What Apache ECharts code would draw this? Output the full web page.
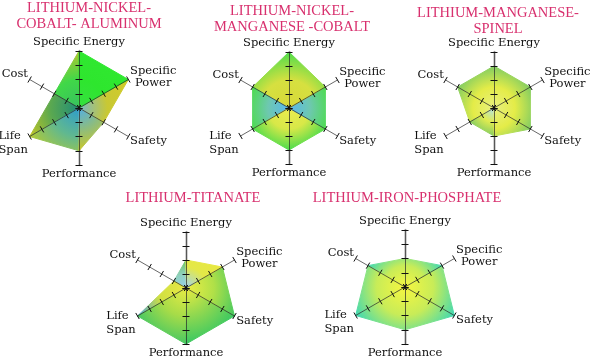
<!DOCTYPE html>
<html>
<head>
<meta charset="utf-8">
<script src="https://cdn.jsdelivr.net/npm/echarts@6/dist/echarts.min.js"></script>
<style>
html,body{margin:0;padding:0;background:#fff;}
#chart{width:594px;height:362px;}
</style>
</head>
<body>
<div id="chart"></div>
<script>
// Indicator order (counter-clockwise from top, as ECharts draws radar axes)
const indicatorNames = ['Specific Energy', 'Cost', 'Life Span', 'Performance', 'Safety', 'Specific Power'];
const chartTitles = [
  'LITHIUM-NICKEL-\nCOBALT- ALUMINUM',
  'LITHIUM-NICKEL-\nMANGANESE -COBALT',
  'LITHIUM-MANGANESE-\nSPINEL',
  'LITHIUM-TITANATE',
  'LITHIUM-IRON-PHOSPHATE'
];
// Ratings 0..4 in indicator order: SE, Cost, Life Span, Performance, Safety, Specific Power
const ncaValues = [4, 2, 4, 3, 2, 4];
const nmcValues = [4, 3, 3, 3, 3, 3];
const lmoValues = [3, 3, 2, 2, 3, 3];
const ltoValues = [2, 1, 4, 4, 4, 3];
const lfpValues = [2, 3, 4, 3, 4, 3];
const maxValue = 4;
const tickCount = 4;

const allValues = [ncaValues, nmcValues, lmoValues, ltoValues, lfpValues];

// layout (styles)
const layouts = [
  {cx: 79,  cy: 108, r: 57, tx: 89,  ty: 0},
  {cx: 289, cy: 108, r: 56, tx: 292, ty: 3},
  {cx: 494, cy: 108, r: 56, tx: 498, ty: 5},
  {cx: 186, cy: 288, r: 56, tx: 193, ty: 190},
  {cx: 405, cy: 287, r: 57, tx: 407, ty: 190}
];

// sector colours: sector k lies between indicator k and k+1 (inner -> outer)
const sectorColors = [
  [ ['#38c060','#40d848','#b4c430'], ['#1e8c78','#5aa850','#c2c626'], ['#2e9ccc','#60b890','#b2ca34'],
    ['#52aee6','#8cbc80','#cac82a'], ['#7ab8c8','#c8c834','#d2cc28'], ['#36e040','#2ee62e','#30e830'] ],
  [ ['#d8d838','#d6e040','#50dc4c'], ['#58b6f0','#6ec8b0','#4cdc4c'], ['#ecec50','#d8e848','#4cdc4c'],
    ['#ecec50','#d8e848','#4cdc4c'], ['#58b6f0','#6ec8b0','#4cdc4c'], ['#d8d838','#d6e040','#50dc4c'] ],
  [ ['#e8f080','#e4ec48','#80cc62'], ['#e8f080','#e4ec48','#80cc62'], ['#b0e0f0','#e0ec50','#84cc62'],
    ['#e8f080','#e4ec48','#80cc62'], ['#e8f080','#e4ec48','#80cc62'], ['#e8f080','#e4ec48','#80cc62'] ],
  [ ['#98d0ec','#90d0c0','#6cc458'], ['#e8e844','#d0e040','#4aa2dc'], ['#e8ec44','#a8dc48','#48c862'],
    ['#eaec40','#90d850','#38c862'], ['#eeee44','#b0e048','#40c860'], ['#a0d4f0','#e4e848','#e8e840'] ],
  [ ['#f6f640','#c8ec58','#3cd8b4'], ['#f6f640','#c8ec58','#3cd8b4'], ['#f6f640','#c8ec58','#3cd8b4'],
    ['#f6f640','#c8ec58','#3cd8b4'], ['#f6f640','#c8ec58','#3cd8b4'], ['#f6f640','#c8ec58','#3cd8b4'] ]
];

const nameRich = {
  se: {},
  sp: {align: 'center'},
  spb: {align: 'center', padding: [0, 0, 4, 0]},
  cost: {padding: [0, 0, 8, 0]},
  safety: {padding: [8, 0, 0, 0]},
  perf: {},
  gap: {fontSize: 2, lineHeight: 12},
  life: {align: 'left'}
};
function formatName(name) {
  if (name === 'Specific Power') return '{sp|Specific}\n{spb|Power}';
  if (name === 'Life Span') return '{gap| }\n{life|Life}\n{life|Span}';
  if (name === 'Cost') return '{cost|Cost}';
  if (name === 'Safety') return '{safety|Safety}';
  if (name === 'Performance') return '{perf|Performance}';
  return '{se|' + name + '}';
}

const radars = [];
const series = [];
const graphics = [];

layouts.forEach(function (L, i) {
  const center = [L.cx, L.cy];
  // vertical light band (below polygons)
  radars.push({
    center: center, radius: L.r, startAngle: 90, z: 1,
    indicator: [{name: '', min: 0, max: maxValue}, {name: '', min: 0, max: maxValue}],
    splitNumber: tickCount,
    axisName: {show: false},
    axisLine: {lineStyle: {color: '#c2c2c2', width: 2.5}},
    axisTick: {show: false},
    splitLine: {show: false},
    splitArea: {show: false}
  });
  // main axes (above polygons)
  radars.push({
    center: center, radius: L.r, startAngle: 90, z: 3,
    indicator: indicatorNames.map(function (n) { return {name: n, min: 0, max: maxValue}; }),
    splitNumber: tickCount,
    nameGap: 2,
    axisName: {
      formatter: formatName,
      color: '#111', fontFamily: 'DejaVu Serif', fontSize: 11.5, lineHeight: 14,
      rich: nameRich
    },
    axisLine: {lineStyle: {color: 'rgba(40,40,40,0.7)', width: 1}},
    axisTick: {show: true, length: 3.5, lineStyle: {color: '#111', width: 1}},
    splitLine: {show: false},
    splitArea: {show: false}
  });
  // mirror ticks on the other side of each axis
  radars.push({
    center: center, radius: L.r, startAngle: 90, z: 3,
    indicator: indicatorNames.map(function (n) { return {name: n, min: 0, max: maxValue}; }),
    splitNumber: tickCount,
    axisName: {show: false},
    axisLine: {show: false},
    axisTick: {show: true, length: -3.5, lineStyle: {color: '#111', width: 1}},
    splitLine: {show: false},
    splitArea: {show: false}
  });

  const vals = allValues[i];
  for (let k = 0; k < indicatorNames.length; k++) {
    const k2 = (k + 1) % indicatorNames.length;
    const sv = indicatorNames.map(function (_, j) { return (j === k || j === k2) ? vals[j] : 0; });
    const vmax = Math.max(vals[k], vals[k2]);
    const stops = sectorColors[i][k];
    const grad = {
      type: 'radial', x: L.cx, y: L.cy, r: L.r * vmax / maxValue, global: true,
      colorStops: stops.map(function (c, j) { return {offset: j / (stops.length - 1), color: c}; })
    };
    series.push({
      type: 'radar', radarIndex: i * 3 + 1, z: 2, symbol: 'none', silent: true,
      data: [{value: sv, areaStyle: {color: grad, opacity: 1}, lineStyle: {color: grad, width: 1}}]
    });
  }

  graphics.push({
    type: 'text', x: L.tx, y: L.ty, silent: true,
    style: {
      text: chartTitles[i], align: 'center', verticalAlign: 'top',
      fill: '#d8306e', font: '14.5px "Liberation Serif"', lineHeight: 16
    }
  });
});

const chart = echarts.init(document.getElementById('chart'));
chart.setOption({
  animation: false,
  backgroundColor: '#ffffff',
  graphic: graphics,
  radar: radars,
  series: series
});
</script>
</body>
</html>
